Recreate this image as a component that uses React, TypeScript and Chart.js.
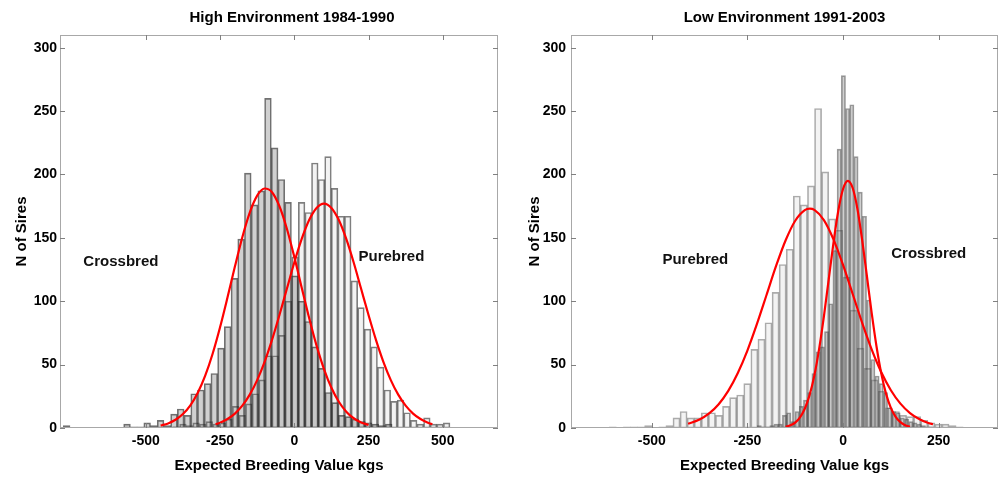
import React, { useEffect, useRef } from "react";
import { Chart, registerables } from "chart.js";

Chart.register(...registerables);

const FONT_FAMILY = "'Liberation Sans', Arial, Helvetica, sans-serif";

// ---------------- shared ----------------
const yMax = 310;
const yStep = 50;
const yAxisTitle = "N of Sires";
const xAxisTitle = "Expected Breeding Value kgs";

// ---------------- left panel: High Environment ----------------
const leftTitle = "High Environment 1984-1990";
const leftXMin = -789;
const leftXMax = 686;
const leftXTicks = [-500, -250, 0, 250, 500];

const leftCrossFirstBin = -766.7;
const leftCrossBinWidth = 22.6;
const leftCrossCounts = [
  2, 0, 0, 0, 0, 0, 0, 0, 0,
  3, 1, 1, 4, 2, 6, 2, 11, 15, 10,
  27, 30, 35, 43, 63, 80, 118, 149, 201, 176, 187,
  260,
  221, 196, 178, 120, 100, 84, 64, 47, 28, 20, 10, 9, 7, 5, 4, 3, 2, 3,
];

const leftPureFirstBin = -397.1;
const leftPureBinWidth = 22.2;
const leftPureCounts = [
  1, 3, 2, 4, 3, 5, 3, 4, 7, 17, 10, 19, 27, 38, 57, 57, 73, 100, 135,
  178, 170, 209, 196, 214, 189, 167, 167, 116, 95, 78, 64, 48, 30, 21, 22, 12, 6, 3, 8, 3, 3, 4,
];

const leftCrossCurveX = [
  -450, -425, -400, -375, -350, -325, -300, -275, -250, -225, -200, -175, -150, -125, -100, -75,
  -50, -25, 0, 25, 50, 75, 100, 125, 150, 175, 200, 225, 250,
];
const leftCrossCurveY = [
  1.9, 3.6, 6.5, 11.0, 17.9, 27.8, 41.3, 58.6, 79.5, 102.9, 127.3, 150.5, 169.9, 183.3, 188.9, 186.0,
  174.9, 157.2, 135.0, 110.7, 86.8, 65.0, 46.5, 31.7, 20.7, 12.9, 7.7, 4.4, 2.4,
];

const leftPureCurveX = [
  -265, -250, -225, -200, -175, -150, -125, -100, -75, -50, -25, 0, 25, 50, 75, 100,
  125, 150, 175, 200, 225, 250, 275, 300, 325, 350, 375, 400, 425, 450, 465,
];
const leftPureCurveY = [
  3.0, 4.2, 7.05, 11.35, 17.6, 26.3, 37.8, 52.2, 69.5, 89.1, 109.8, 130.5, 149.1, 164.0, 173.6, 177,
  173.6, 164.0, 149.1, 130.5, 109.8, 89.1, 69.5, 52.2, 37.8, 26.3, 17.6, 11.35, 7.05, 4.2, 3.0,
];

// ---------------- right panel: Low Environment ----------------
const rightTitle = "Low Environment 1991-2003";
const rightXMin = -711;
const rightXMax = 405;
const rightXTicks = [-500, -250, 0, 250];

const rightPureFirstBin = -601.75;
const rightPureBinWidth = 18.5;
const rightPureCounts = [
  1, 0, 1, 1, 1, 2, 0, 1, 2, 8, 13, 8, 8, 12, 12, 10, 17, 24, 26, 35,
  62, 70, 83, 107, 129, 141, 183, 176, 191,
  252,
  202, 165, 156, 119, 93, 63, 47, 38, 29, 16, 13, 10, 9, 9, 6, 4, 3, 3, 2, 1,
];

const rightCrossFirstBin = -219;
const rightCrossBinWidth = 11;
const rightCrossCounts = [
  2, 1, 1, 2, 3, 3, 10, 12, 5, 13, 17, 22, 28, 43, 60, 64, 76, 98, 140, 220,
  278,
  252, 255, 214, 186, 167, 101, 54, 41, 35, 28, 16, 13, 12, 8, 7, 5, 4, 3, 2, 1, 1,
];

const rightPureCurveX = [
  -405, -375, -350, -325, -300, -275, -250, -225, -200, -175, -150, -125, -100, -87, -75,
  -50, -25, 0, 25, 50, 75, 100, 125, 150, 175, 200, 225, 235,
];
const rightPureCurveY = [
  3.3, 6.7, 11.5, 18.8, 29.3, 43.4, 61.1, 82.1, 104.9, 127.8, 148.1, 163.5, 171.9, 173, 172.0,
  164.0, 148.8, 128.6, 105.9, 83.0, 61.9, 44.0, 29.8, 19.2, 11.8, 6.9, 3.8, 3.0,
];

const rightCrossCurveX = [
  -150, -137.5, -125, -112.5, -100, -87.5, -75, -62.5, -50, -37.5, -25, -12.5, 0, 12.5,
  25, 37.5, 50, 62.5, 75, 87.5, 100, 112.5, 125, 137.5, 150, 162.5, 175,
];
const rightCrossCurveY = [
  0.96, 2.1, 4.3, 8.4, 15.2, 25.9, 41.4, 62.4, 88.1, 117.1, 146.1, 171.2, 188.5, 195,
  189.5, 173.0, 148.3, 119.5, 90.4, 64.3, 42.9, 26.9, 15.9, 8.8, 4.6, 2.2, 1.0,
];

// ---------------- annotations (data coordinates) ----------------
const leftNotes = [
  { text: "Crossbred", x: -584, y: 131 },
  { text: "Purebred", x: 327, y: 135 },
];
const rightNotes = [
  { text: "Purebred", x: -386, y: 133 },
  { text: "Crossbred", x: 224, y: 137 },
];

// ---------------- helpers ----------------
function histPoints(first: number, width: number, counts: number[]) {
  return counts.map((c, i) => ({ x: first + i * width, y: c }));
}
function curvePoints(xs: number[], ys: number[]) {
  return xs.map((x, i) => ({ x, y: ys[i] }));
}

const framePlugin = {
  id: "frame",
  afterDraw(chart: any, _args: any, opts: any) {
    const { ctx, chartArea: a, scales } = chart;
    const xs = scales.x;
    const ys = scales.y;
    ctx.save();
    ctx.strokeStyle = "#a8a8a8";
    ctx.lineWidth = 1;
    ctx.strokeRect(Math.round(a.left) + 0.5, Math.round(a.top) + 0.5, Math.round(a.right - a.left) - 1, Math.round(a.bottom - a.top) - 1);
    ctx.strokeStyle = "#808080";
    ctx.beginPath();
    const tl = 5;
    xs.ticks.forEach((t: any) => {
      const px = Math.round(xs.getPixelForValue(t.value)) + 0.5;
      ctx.moveTo(px, a.bottom);
      ctx.lineTo(px, a.bottom - tl);
      ctx.moveTo(px, a.top);
      ctx.lineTo(px, a.top + tl);
    });
    ys.ticks.forEach((t: any) => {
      const py = Math.round(ys.getPixelForValue(t.value)) + 0.5;
      ctx.moveTo(a.left, py);
      ctx.lineTo(a.left + tl, py);
      ctx.moveTo(a.right, py);
      ctx.lineTo(a.right - tl, py);
    });
    ctx.stroke();
    ctx.textAlign = "center";
    ctx.textBaseline = "middle";
    // panel title
    ctx.fillStyle = "#000";
    ctx.font = `bold 15px ${FONT_FAMILY}`;
    ctx.fillText(opts.title, (a.left + a.right) / 2 + opts.titleShift, a.top - 17);
    // annotations
    ctx.fillStyle = "#111";
    (opts.notes || []).forEach((n: any) => {
      ctx.fillText(n.text, xs.getPixelForValue(n.x), ys.getPixelForValue(n.y));
    });
    ctx.restore();
  },
};

type PanelProps = {
  title: string;
  titleShift: number;
  xMin: number;
  xMax: number;
  xTicks: number[];
  cross: { x: number; y: number }[];
  pure: { x: number; y: number }[];
  crossCurve: { x: number; y: number }[];
  pureCurve: { x: number; y: number }[];
  notes: { text: string; x: number; y: number }[];
  yAxisWidth: number;
  padRight: number;
  yTitlePad: number;
  tickPadY: number;
  crossBorder: string;
  pureBorder: string;
};

function Panel(p: PanelProps) {
  const ref = useRef<HTMLCanvasElement | null>(null);
  useEffect(() => {
    if (!ref.current) return;
    const boldFont = (size: number) => ({ family: FONT_FAMILY, size, weight: "bold" as const });
    const crossDs: any = {
      type: "bar",
      data: p.cross,
      xAxisID: "x",
      yAxisID: "y",
      backgroundColor: "rgba(110,110,110,0.32)",
      borderColor: p.crossBorder,
      borderWidth: 1,
      borderSkipped: false,
      barPercentage: 1,
      categoryPercentage: 1,
      grouped: false,
      order: 2,
    };
    const pureDs: any = {
      type: "bar",
      data: p.pure,
      xAxisID: "x2",
      yAxisID: "y",
      backgroundColor: "rgba(160,160,160,0.12)",
      borderColor: p.pureBorder,
      borderWidth: 1,
      borderSkipped: false,
      barPercentage: 1,
      categoryPercentage: 1,
      grouped: false,
      order: 3,
    };
    const lineBase = {
      type: "line",
      xAxisID: "x",
      yAxisID: "y",
      borderColor: "#ff0000",
      borderWidth: 2.2,
      pointRadius: 0,
      fill: false,
      cubicInterpolationMode: "monotone",
      order: 0,
    };
    const chart = new Chart(ref.current, {
      type: "bar",
      data: {
        datasets: [
          { ...lineBase, data: p.crossCurve } as any,
          { ...lineBase, data: p.pureCurve } as any,
          crossDs,
          pureDs,
        ],
      },
      options: {
        animation: false,
        responsive: false,
        events: [],
        layout: { padding: { left: 0, right: p.padRight, top: 35, bottom: 0 } },
        plugins: {
          legend: { display: false },
          tooltip: { enabled: false },
          title: { display: false },
          frame: { notes: p.notes, title: p.title, titleShift: p.titleShift },
        } as any,
        scales: {
          x: {
            type: "linear",
            min: p.xMin,
            max: p.xMax,
            offset: false,
            afterBuildTicks: (s: any) => {
              s.ticks = p.xTicks.map((v) => ({ value: v }));
            },
            afterFit: (s: any) => {
              s.height = 49;
            },
            grid: { display: false, drawTicks: false },
            border: { display: false },
            ticks: { color: "#000", font: boldFont(14), padding: 5, maxRotation: 0 },
            title: { display: true, text: xAxisTitle, color: "#000", font: boldFont(15), padding: { top: 0, bottom: 2 } },
          },
          x2: {
            type: "linear",
            min: p.xMin,
            max: p.xMax,
            offset: false,
            display: false,
          },
          y: {
            type: "linear",
            min: 0,
            max: yMax,
            afterFit: (s: any) => {
              s.width = p.yAxisWidth;
            },
            grid: { display: false, drawTicks: false },
            border: { display: false },
            ticks: { stepSize: yStep, includeBounds: false, color: "#000", font: boldFont(14), padding: p.tickPadY },
            title: { display: true, text: yAxisTitle, color: "#000", font: boldFont(15), padding: { top: p.yTitlePad, bottom: 0 } },
          },
        } as any,
      },
      plugins: [framePlugin],
    });
    return () => chart.destroy();
  }, []);
  return <canvas ref={ref} width={502} height={477} style={{ display: "block" }} />;
}

export default function App() {
  return (
    <div style={{ position: "absolute", left: 0, top: 0, width: 1004, height: 477, display: "flex", background: "#fff" }}>
      <Panel
        title={leftTitle}
        titleShift={13}
        xMin={leftXMin}
        xMax={leftXMax}
        xTicks={leftXTicks}
        cross={histPoints(leftCrossFirstBin, leftCrossBinWidth, leftCrossCounts)}
        pure={histPoints(leftPureFirstBin, leftPureBinWidth, leftPureCounts)}
        crossCurve={curvePoints(leftCrossCurveX, leftCrossCurveY)}
        pureCurve={curvePoints(leftPureCurveX, leftPureCurveY)}
        notes={leftNotes}
        yAxisWidth={60}
        padRight={4}
        yTitlePad={13}
        tickPadY={3}
        crossBorder="rgba(40,40,40,0.66)"
        pureBorder="rgba(40,40,40,0.6)"
      />
      <Panel
        title={rightTitle}
        titleShift={0}
        xMin={rightXMin}
        xMax={rightXMax}
        xTicks={rightXTicks}
        cross={histPoints(rightCrossFirstBin, rightCrossBinWidth, rightCrossCounts)}
        pure={histPoints(rightPureFirstBin, rightPureBinWidth, rightPureCounts)}
        crossCurve={curvePoints(rightCrossCurveX, rightCrossCurveY)}
        pureCurve={curvePoints(rightPureCurveX, rightPureCurveY)}
        notes={rightNotes}
        yAxisWidth={69}
        padRight={6}
        yTitlePad={24}
        tickPadY={5}
        crossBorder="rgba(60,60,60,0.5)"
        pureBorder="rgba(90,90,90,0.5)"
      />
    </div>
  );
}
